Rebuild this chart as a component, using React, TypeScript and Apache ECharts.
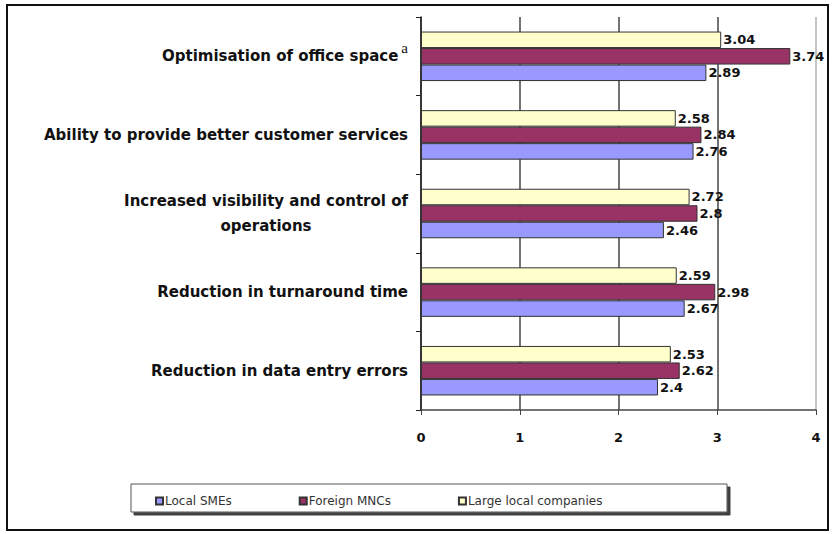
import React, { useEffect, useRef } from "react";
import * as echarts from "echarts";

// Categories listed bottom-to-top (ECharts draws the first category at the bottom)
const categories = [
  "Reduction in data entry errors",
  "Reduction in turnaround time",
  "Increased visibility and control of\noperations",
  "Ability to provide better customer services",
  "Optimisation of office space",
];

const seriesNames = ["Local SMEs", "Foreign MNCs", "Large local companies"];
const localSMEs = [2.4, 2.67, 2.46, 2.76, 2.89];
const foreignMNCs = [2.62, 2.98, 2.8, 2.84, 3.74];
const largeLocal = [2.53, 2.59, 2.72, 2.58, 3.04];

const xTicks = [0, 1, 2, 3, 4];
const seriesColors = ["#9999FF", "#993366", "#FFFFCC"];

const FONT = "'DejaVu Sans', 'Liberation Sans', Arial, sans-serif";

export default function App() {
  const ref = useRef<HTMLDivElement>(null);

  useEffect(() => {
    if (!ref.current) return;
    const chart = echarts.init(ref.current, null, { renderer: "svg" });

    const values = [localSMEs, foreignMNCs, largeLocal];
    // Within a category ECharts stacks the first series on top, so draw in reverse
    const drawOrder = [2, 1, 0];

    const option = {
      animation: false,
      backgroundColor: "#ffffff",
      grid: { left: 421, right: 16, top: 17, bottom: 124, containLabel: false },
      xAxis: {
        type: "value",
        min: xTicks[0],
        max: xTicks[xTicks.length - 1],
        interval: 1,
        axisLine: { show: true, lineStyle: { color: "#444", width: 1.5 } },
        axisTick: { show: true, length: 5, lineStyle: { color: "#444" } },
        axisLabel: {
          margin: 21,
          color: "#111",
          fontFamily: FONT,
          fontWeight: "bold",
          fontSize: 13,
        },
        splitLine: {
          show: true,
          lineStyle: { color: ["#444", "#444", "#444", "#444", "#b0b0b0"], width: 1.5 },
        },
      },
      yAxis: {
        type: "category",
        data: categories,
        axisLine: { show: true, lineStyle: { color: "#222", width: 1.5 } },
        axisTick: { show: true, length: 5, lineStyle: { color: "#222" } },
        axisLabel: {
          margin: 13,
          color: "#111",
          formatter: (v: string) => {
            const lines = v.split("\n").map((l) => `{c|${l}}`);
            if (v === "Optimisation of office space") lines[0] += "{sup|a}";
            return lines.join("\n");
          },
          rich: {
            c: {
              align: "center",
              fontFamily: FONT,
              fontWeight: "bold",
              fontSize: 15,
              lineHeight: 25,
              color: "#111",
            },
            sup: {
              fontFamily: "'Liberation Serif', serif",
              fontWeight: "normal",
              fontSize: 15,
              color: "#111",
              padding: [0, 0, 16, 3],
            },
          },
        },
      },
      legend: {
        left: 150,
        top: 490,
        itemWidth: 7,
        itemHeight: 7,
        itemGap: 67,
        icon: "rect",
        textStyle: { fontFamily: FONT, fontSize: 12, color: "#333", padding: [0, 0, 0, -3] },
        data: seriesNames,
      },
      graphic: [
        {
          type: "rect",
          shape: { x: 7, y: 5, width: 821, height: 525 },
          style: { fill: "none", stroke: "#111", lineWidth: 2 },
          silent: true,
          z: 100,
        },
        {
          type: "rect",
          shape: { x: 131, y: 484, width: 596, height: 28 },
          style: {
            fill: "#fff",
            stroke: "#555",
            lineWidth: 1,
            shadowColor: "rgba(0,0,0,0.75)",
            shadowOffsetX: 3,
            shadowOffsetY: 3,
            shadowBlur: 1,
          },
          silent: true,
          z: -1,
        },
      ],
      series: drawOrder.map((i) => ({
        name: seriesNames[i],
        type: "bar",
        data: values[i],
        barGap: "0%",
        barCategoryGap: "37%",
        itemStyle: { color: seriesColors[i], borderColor: "#333", borderWidth: 1 },
        label: {
          show: true,
          position: "right",
          distance: 2,
          color: "#111",
          fontFamily: FONT,
          fontWeight: "bold",
          fontSize: 13,
        },
      })),
    };

    chart.setOption(option);
    return () => chart.dispose();
  }, []);

  return (
    <div
      ref={ref}
      style={{ position: "absolute", left: 0, top: 0, width: 832, height: 534 }}
    />
  );
}
